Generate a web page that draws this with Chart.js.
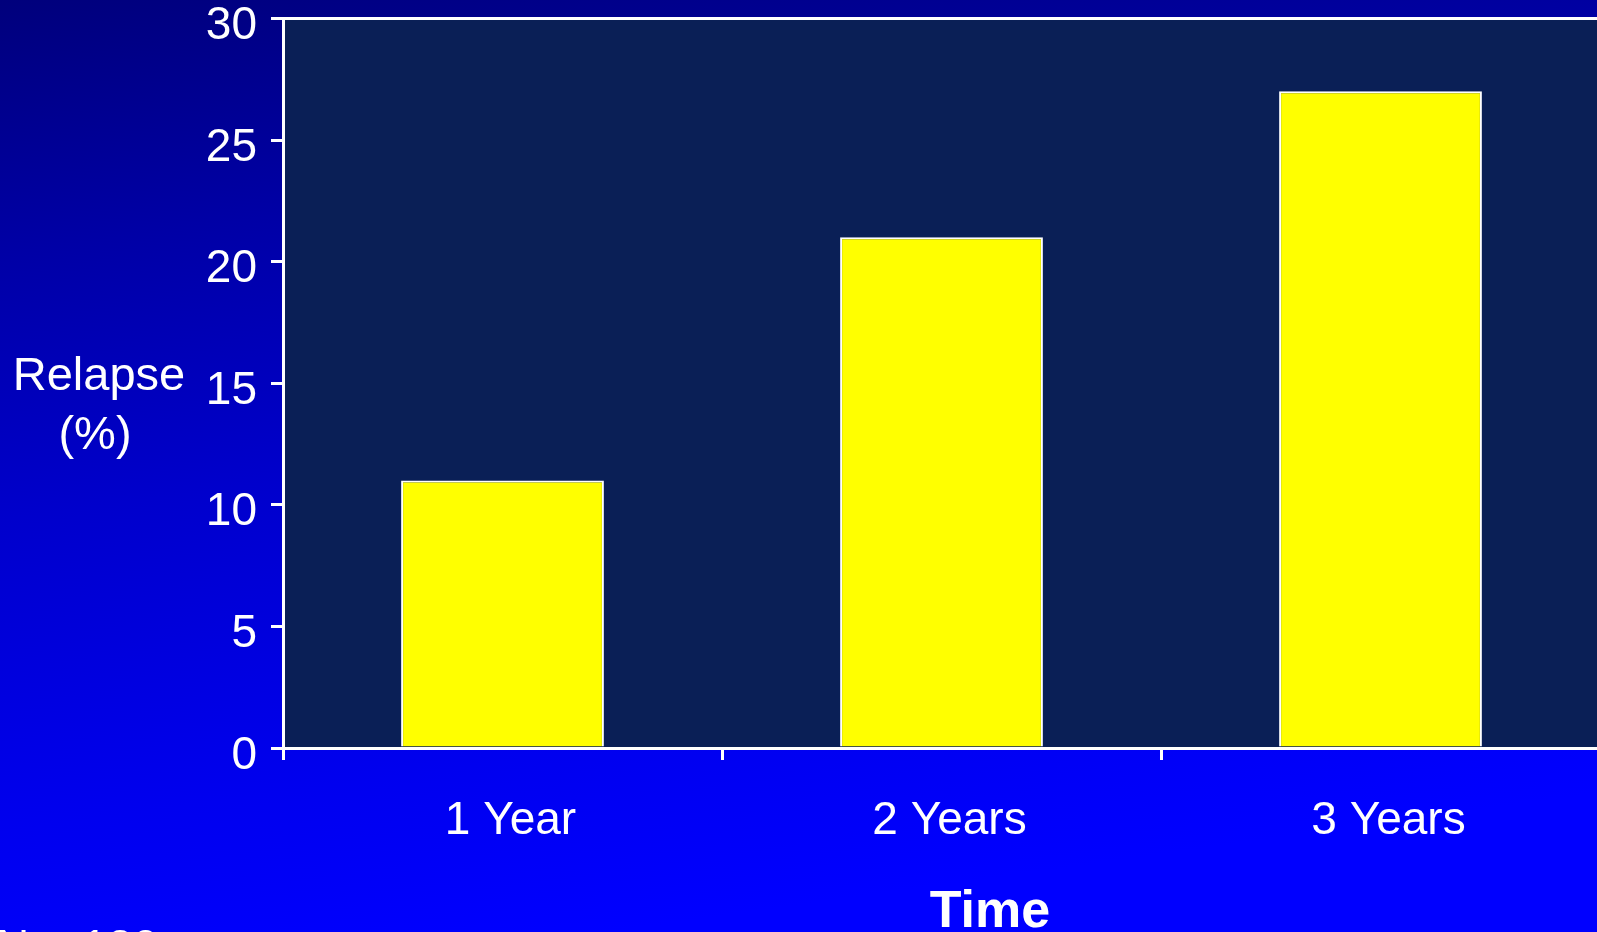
<!DOCTYPE html>
<html>
<head>
<meta charset="utf-8">
<title>Relapse</title>
<script src="https://cdn.jsdelivr.net/npm/chart.js@4.4.1/dist/chart.umd.min.js"></script>
<style>
html, body { margin: 0; padding: 0; overflow: hidden; }
body {
    width: 1597px; height: 932px;
    background: linear-gradient(172deg, #00007c 0%, #0000a6 22%, #0000cc 45%, #0000ef 72%, #0000ff 88%);
}
/* canvas pulled up so the plot frame sits close to the top edge */
#wrap { position: absolute; left: 0; top: -14px; }
</style>
</head>
<body>
<div id="wrap"><canvas id="barChart"></canvas></div>
<script>
var categories = ["1 Year", "2 Years", "3 Years"];
var relapse = [11, 21, 27];
var yTicks = [0, 5, 10, 15, 20, 25, 30];

var FONT = '"Liberation Sans", Arial, sans-serif';
var SHIFT = 14;

// dark plot panel, the top frame line and the free-standing labels
var panel = {
    id: 'panel',
    beforeDraw: function (chart) {
        var a = chart.chartArea, ctx = chart.ctx;
        ctx.save();
        ctx.fillStyle = '#0a1f56';
        ctx.fillRect(a.left, a.top, a.right - a.left, a.bottom - a.top);
        ctx.restore();
    },
    afterDraw: function (chart) {
        var a = chart.chartArea, ctx = chart.ctx;
        ctx.save();
        ctx.strokeStyle = '#ffffff';
        ctx.lineWidth = 3;
        ctx.beginPath();
        ctx.moveTo(a.left, a.top);
        ctx.lineTo(chart.width, a.top);
        ctx.stroke();

        ctx.fillStyle = '#ffffff';
        ctx.textAlign = 'center';
        ctx.textBaseline = 'alphabetic';
        ctx.font = '47px ' + FONT;
        ctx.fillText('Relapse', 99, 390 + SHIFT);
        ctx.fillText('(%)', 95, 449 + SHIFT);

        ctx.font = 'bold 52px ' + FONT;
        ctx.fillText('Time', 990, 927 + SHIFT);

        ctx.textAlign = 'left';
        ctx.font = '46px ' + FONT;
        ctx.fillText('N = 120', -4, 962 + SHIFT);
        ctx.restore();
    }
};

(function () {
    var ctx = document.getElementById('barChart').getContext('2d');
    ctx.canvas.width = 1600;
    ctx.canvas.height = 932 + SHIFT;
    var chart = new Chart(ctx, {
        type: 'bar',
        data: {
            labels: categories,
            datasets: [{
                label: 'Relapse (%)',
                data: relapse,
                backgroundColor: '#ffff00',
                borderColor: '#ffffff',
                borderWidth: 2,
                barPercentage: 0.462,
                categoryPercentage: 1
            }]
        },
        plugins: [panel],
        options: {
            responsive: false,
            animation: false,
            layout: { padding: 0 },
            plugins: {
                legend: { display: false },
                tooltip: { enabled: false }
            },
            scales: {
                x: {
                    grid: {
                        offset: true,
                        drawOnChartArea: false,
                        drawTicks: true,
                        tickLength: 12,
                        color: '#ffffff',
                        lineWidth: 3
                    },
                    border: { display: true, color: '#ffffff', width: 3 },
                    ticks: {
                        color: '#ffffff',
                        font: { family: FONT, size: 46 },
                        padding: 34,
                        labelOffset: 8
                    },
                    afterFit: function (s) { s.height = 932 - 748; }
                },
                y: {
                    min: 0,
                    max: 30,
                    afterBuildTicks: function (s) {
                        s.ticks = yTicks.map(function (v) { return { value: v }; });
                    },
                    grid: {
                        drawOnChartArea: false,
                        tickLength: 12,
                        color: '#ffffff',
                        lineWidth: 3
                    },
                    border: { display: true, color: '#ffffff', width: 3 },
                    ticks: {
                        color: '#ffffff',
                        font: { family: FONT, size: 46, lineHeight: 0.8 },
                        padding: 14,
                        labelOffset: 8
                    },
                    afterFit: function (s) { s.width = 283; }
                }
            }
        }
    });
})();
</script>
</body>
</html>
